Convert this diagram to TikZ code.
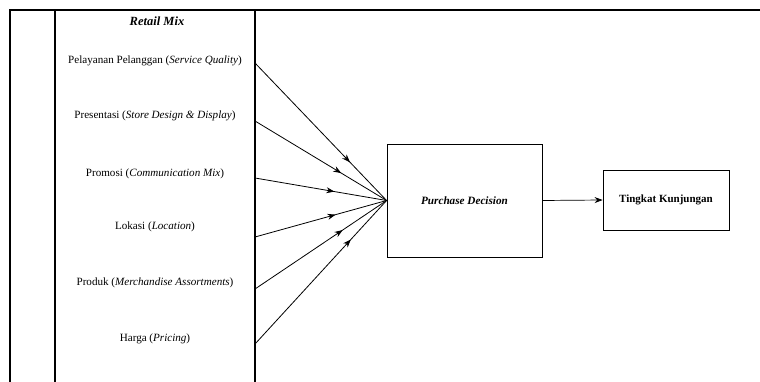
\documentclass[tikz,border=0pt]{standalone}
\usepackage{fontspec}
\setmainfont{Liberation Serif}
\usetikzlibrary{arrows.meta,decorations.markings}
\tikzset{
  frame/.style={line width=1.8pt},
  item/.style={font=\fontsize{11.1}{13}\selectfont, inner sep=0pt, anchor=center},
  box/.style={draw, line width=0.8pt, inner sep=0pt, align=center},
  feed/.style={line width=0.8pt, postaction={decorate}, decoration={markings, mark=at position -53pt with {\arrow{Stealth[length=8pt,width=6pt]}}}},
  link/.style={line width=0.7pt, -{Stealth[length=8pt,width=6pt]}}
}
\begin{document}
\begin{tikzpicture}[x=1pt,y=-1pt]
\useasboundingbox (0,0) rectangle (760,382);
% frame
\draw[frame] (10,382) -- (10,10) -- (760,10);
\draw[frame] (55,10) -- (55,382);
\draw[frame] (255,10) -- (255,382);
% texts
\node[item, font=\fontsize{12.5}{14}\selectfont\bfseries\itshape] (rm) at (157,21) {Retail Mix};
\node[item] (t1) at (155,61) {Pelayanan Pelanggan (\textit{Service Quality})};
\node[item] (t2) at (155,116) {Presentasi (\textit{Store Design \& Display})};
\node[item] (t3) at (155,174) {Promosi (\textit{Communication Mix})};
\node[item] (t4) at (155,227) {Lokasi (\textit{Location})};
\node[item] (t5) at (155,283) {Produk (\textit{Merchandise Assortments})};
\node[item] (t6) at (155,339) {Harga (\textit{Pricing})};
% boxes
\node[box, minimum width=155pt, minimum height=113pt, font=\fontsize{11.2}{13}\selectfont\bfseries\itshape] (pd) at (464.5,200.5) {Purchase Decision};
\node[box, minimum width=126pt, minimum height=60pt, font=\fontsize{11}{13}\selectfont\bfseries] (tk) at (666,200) {Tingkat Kunjungan};
% sources
\coordinate (s1) at (255,63);
\coordinate (s2) at (255,121);
\coordinate (s3) at (255,178);
\coordinate (s4) at (255,237);
\coordinate (s5) at (255,289);
\coordinate (s6) at (255,344);
\foreach \i in {1,...,6} \draw[feed] (s\i) -- (pd.west);
\draw[link] (pd.east) -- (tk.west);
\end{tikzpicture}
\end{document}
